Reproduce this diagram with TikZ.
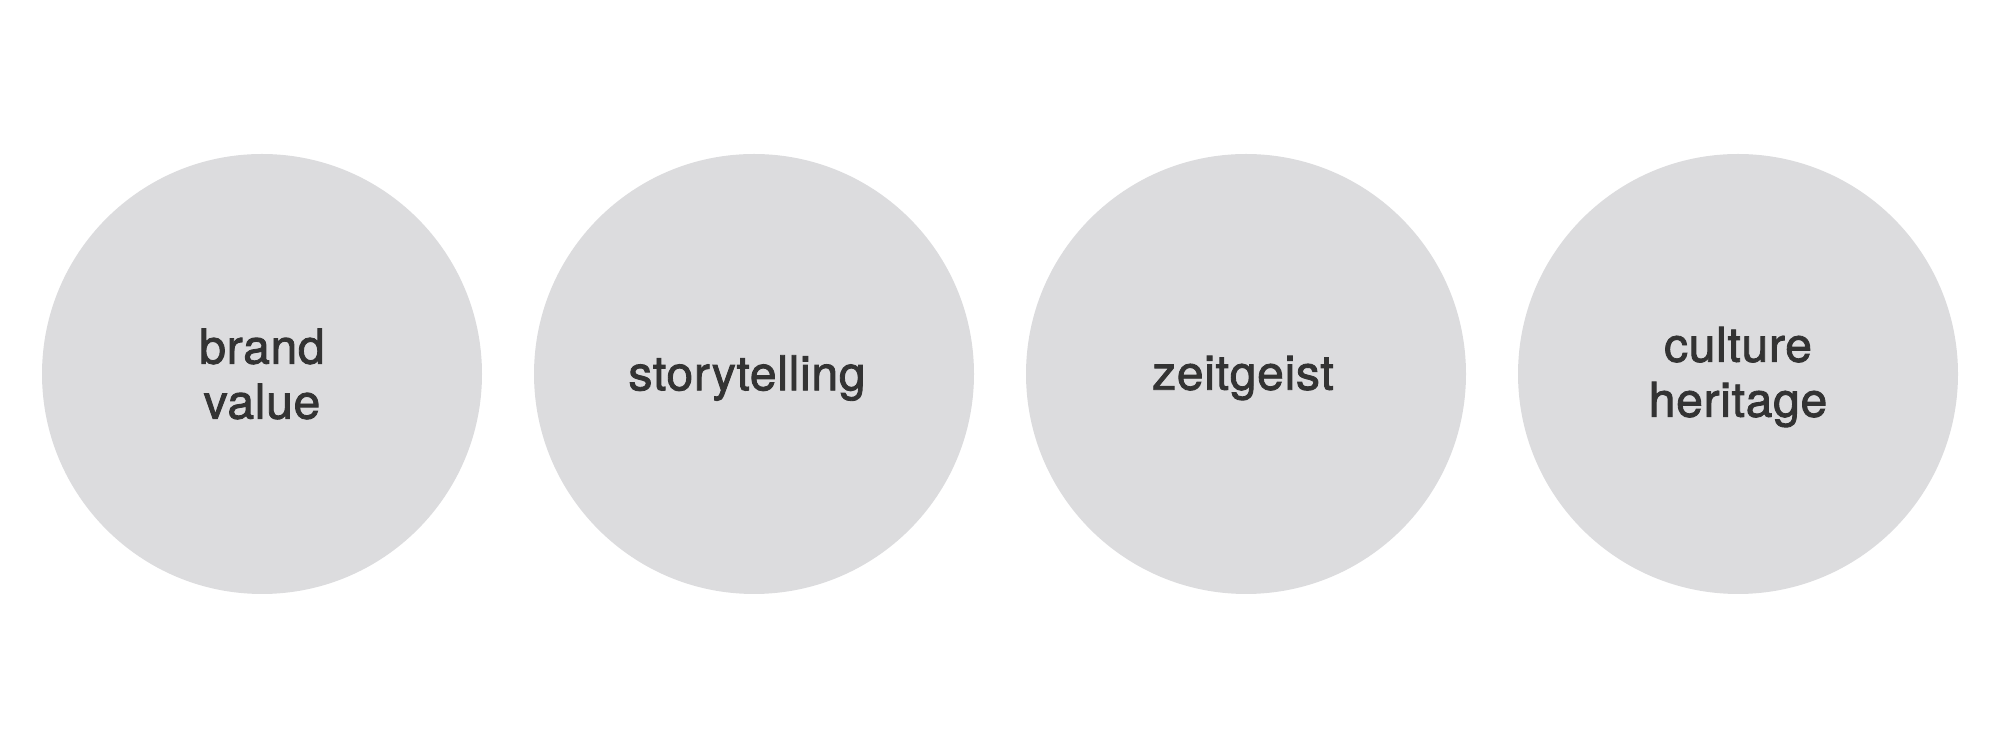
\documentclass[tikz,border=0pt]{standalone}
\usepackage{fontspec}
\setmainfont{TeX Gyre Heros}
\newfontfamily\labelfont{TeX Gyre Heros}[FakeBold=1.8, LetterSpace=1.5]
\definecolor{discfill}{HTML}{DCDCDE}
\definecolor{labeltext}{HTML}{333333}
\begin{document}
\begin{tikzpicture}[x=1pt,y=1pt,
  disc/.style={circle, fill=discfill, minimum size=440pt, inner sep=0pt},
  lbl/.style={text=labeltext, align=center, font=\labelfont\fontsize{48}{55}\selectfont}]
  \useasboundingbox (0,0) rectangle (2000,749);
  \node[disc] (d1) at (262,375) {};
  \node[disc] (d2) at (754,375) {};
  \node[disc] (d3) at (1246,375) {};
  \node[disc] (d4) at (1738,375) {};
  \node[lbl] (t1) at ([yshift=0pt]d1) {brand\\value};
  \node[lbl] (t2) at ([xshift=-7pt,yshift=-4pt]d2) {storytelling};
  \node[lbl] (t3) at ([xshift=-3pt,yshift=-4pt]d3) {zeitgeist};
  \node[lbl] (t4) at ([yshift=-3pt]d4) {culture\\heritage};
\end{tikzpicture}
\end{document}
